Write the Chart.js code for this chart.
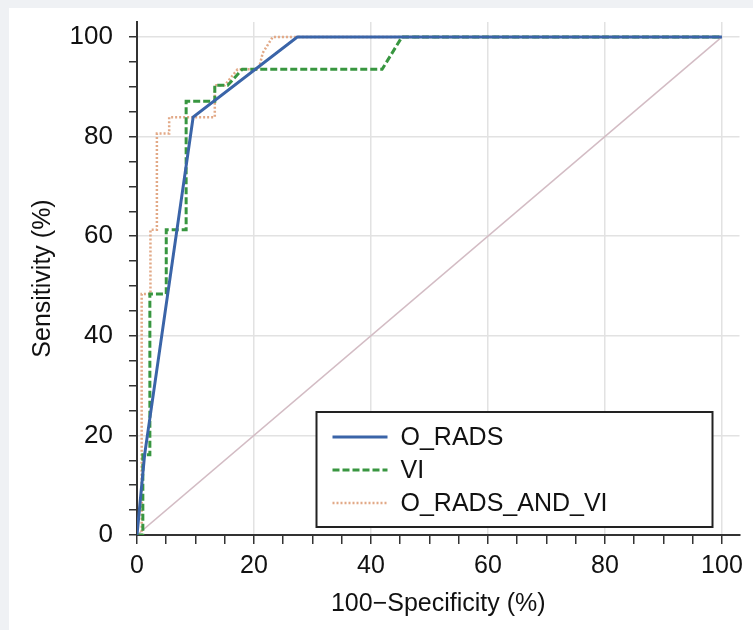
<!DOCTYPE html>
<html>
<head>
<meta charset="utf-8">
<script src="https://cdn.jsdelivr.net/npm/chart.js@4.4.0/dist/chart.umd.min.js"></script>
<style>
  html, body { margin: 0; padding: 0; background: #eff1f4; }
  #wrap { position: absolute; left: 9px; top: 8px; width: 744px; height: 622px; background: #fff; }
</style>
</head>
<body>
<div id="wrap"><canvas id="rocChart"></canvas></div>
<script>
// ROC curves, values (x = 100-specificity, y = sensitivity)
var oradsX = [0, 1.3, 9.6, 27.4, 100];
var oradsY = [0, 16.1, 83.9, 100, 100];

var viX = [0, 1.0, 1.0, 2.2, 2.2, 5.0, 5.0, 8.4, 8.4, 13.3, 13.3, 15.5, 18.0, 41.9, 45.3, 100];
var viY = [0, 0, 16.1, 16.1, 48.4, 48.4, 61.3, 61.3, 87.1, 87.1, 90.3, 90.3, 93.5, 93.5, 100, 100];

var bothX = [0, 0.8, 0.8, 2.3, 2.3, 3.4, 3.4, 5.5, 5.5, 13.3, 13.3, 15.0, 17.2, 20.8, 21.5, 23.2, 100];
var bothY = [0, 0, 48.4, 48.4, 61.3, 61.3, 80.6, 80.6, 83.9, 83.9, 90.3, 90.3, 93.5, 93.5, 96.8, 100, 100];

var diagX = [0, 100];
var diagY = [0, 100];

var seriesNames = ['O_RADS', 'VI', 'O_RADS_AND_VI'];
var tickValues = [0, 5, 10, 15, 20, 25, 30, 35, 40, 45, 50, 55, 60, 65, 70, 75, 80, 85, 90, 95, 100];
var tickLabels = [0, 20, 40, 60, 80, 100];

var fontFamily = '"Liberation Sans", Arial, Helvetica, sans-serif';

function pts(xs, ys) {
  return xs.map(function (x, i) { return { x: x, y: ys[i] }; });
}

// boxed legend sitting inside the plot, bottom right
var legendBox = {
  id: 'legendBox',
  afterDatasetsDraw: function (chart) {
    var c = chart.ctx, a = chart.chartArea;
    var w = 396, h = 115;
    var left = a.right - 27 - w, top = a.bottom - 8 - h;
    c.save();
    c.fillStyle = '#fff';
    c.fillRect(left, top, w, h);
    c.lineWidth = 2;
    c.strokeStyle = '#222';
    c.strokeRect(left, top, w, h);
    c.font = '25px ' + fontFamily;
    c.textBaseline = 'middle';
    var row = 0;
    chart.data.datasets.forEach(function (ds) {
      if (!ds.label) return;
      var y = top + 25 + 33 * row;
      c.beginPath();
      c.setLineDash(ds.borderDash || []);
      c.lineWidth = ds.borderWidth;
      c.strokeStyle = ds.borderColor;
      c.moveTo(left + 16, y);
      c.lineTo(left + 71, y);
      c.stroke();
      c.setLineDash([]);
      c.fillStyle = '#111';
      c.fillText(ds.label, left + 84, y + 1);
      row++;
    });
    c.restore();
  }
};

function gridColor(ctx) {
  var v = ctx.tick ? ctx.tick.value : 0;
  return (v > 0 && v % 20 === 0) ? '#e2e2e2' : 'rgba(0,0,0,0)';
}

function setTicks(scale) {
  scale.ticks = tickValues.map(function (v) { return { value: v }; });
}

function tickText(v) {
  return tickLabels.indexOf(v) >= 0 ? String(v) : '';
}

var rocChart = new Chart(document.getElementById('rocChart'), {
  type: 'line',
  data: {
    datasets: [{
      label: seriesNames[0],
      data: pts(oradsX, oradsY),
      borderColor: '#3a64a8',
      borderWidth: 3
    }, {
      label: seriesNames[1],
      data: pts(viX, viY),
      borderColor: '#389640',
      borderWidth: 3,
      borderDash: [7, 3]
    }, {
      label: seriesNames[2],
      data: pts(bothX, bothY),
      borderColor: '#e2a987',
      borderWidth: 2.5,
      borderDash: [2, 2]
    }, {
      label: '',
      data: pts(diagX, diagY),
      borderColor: '#d3bcc4',
      borderWidth: 1.5
    }]
  },
  options: {
    responsive: true,
    maintainAspectRatio: false,
    animation: false,
    elements: {
      line: { tension: 0, fill: false },
      point: { radius: 0, hoverRadius: 0 }
    },
    layout: {
      padding: { top: 14, right: 13.5, left: 0, bottom: 0 }
    },
    plugins: {
      legend: { display: false },
      tooltip: { enabled: false }
    },
    scales: {
      x: {
        type: 'linear',
        min: 0,
        max: 103,
        afterBuildTicks: setTicks,
        afterFit: function (s) { s.height = 95; },
        ticks: {
          callback: tickText,
          autoSkip: false,
          maxRotation: 0,
          padding: 7,
          color: '#111',
          font: { family: fontFamily, size: 25 }
        },
        grid: {
          color: gridColor,
          lineWidth: 1.5,
          tickColor: '#333',
          tickLength: 9,
          tickWidth: 1.5
        },
        border: { color: '#333', width: 2 },
        title: {
          display: true,
          text: '100\u2212Specificity (%)',
          color: '#111',
          padding: { top: 0, bottom: 11 },
          font: { family: fontFamily, size: 25 }
        }
      },
      y: {
        type: 'linear',
        min: 0,
        max: 103,
        afterBuildTicks: setTicks,
        afterFit: function (s) {
          s.width = 128;
          s.paddingTop = 0;
          s.paddingBottom = 0;
        },
        ticks: {
          callback: tickText,
          autoSkip: false,
          padding: 16,
          color: '#111',
          font: { family: fontFamily, size: 26 }
        },
        grid: {
          color: gridColor,
          lineWidth: 1.5,
          tickColor: '#333',
          tickLength: 8,
          tickWidth: 1.5
        },
        border: { color: '#333', width: 2 },
        title: {
          display: true,
          text: 'Sensitivity (%)',
          color: '#111',
          padding: { top: 19, bottom: 0 },
          font: { family: fontFamily, size: 25 }
        }
      }
    }
  },
  plugins: [legendBox]
});
</script>
</body>
</html>
